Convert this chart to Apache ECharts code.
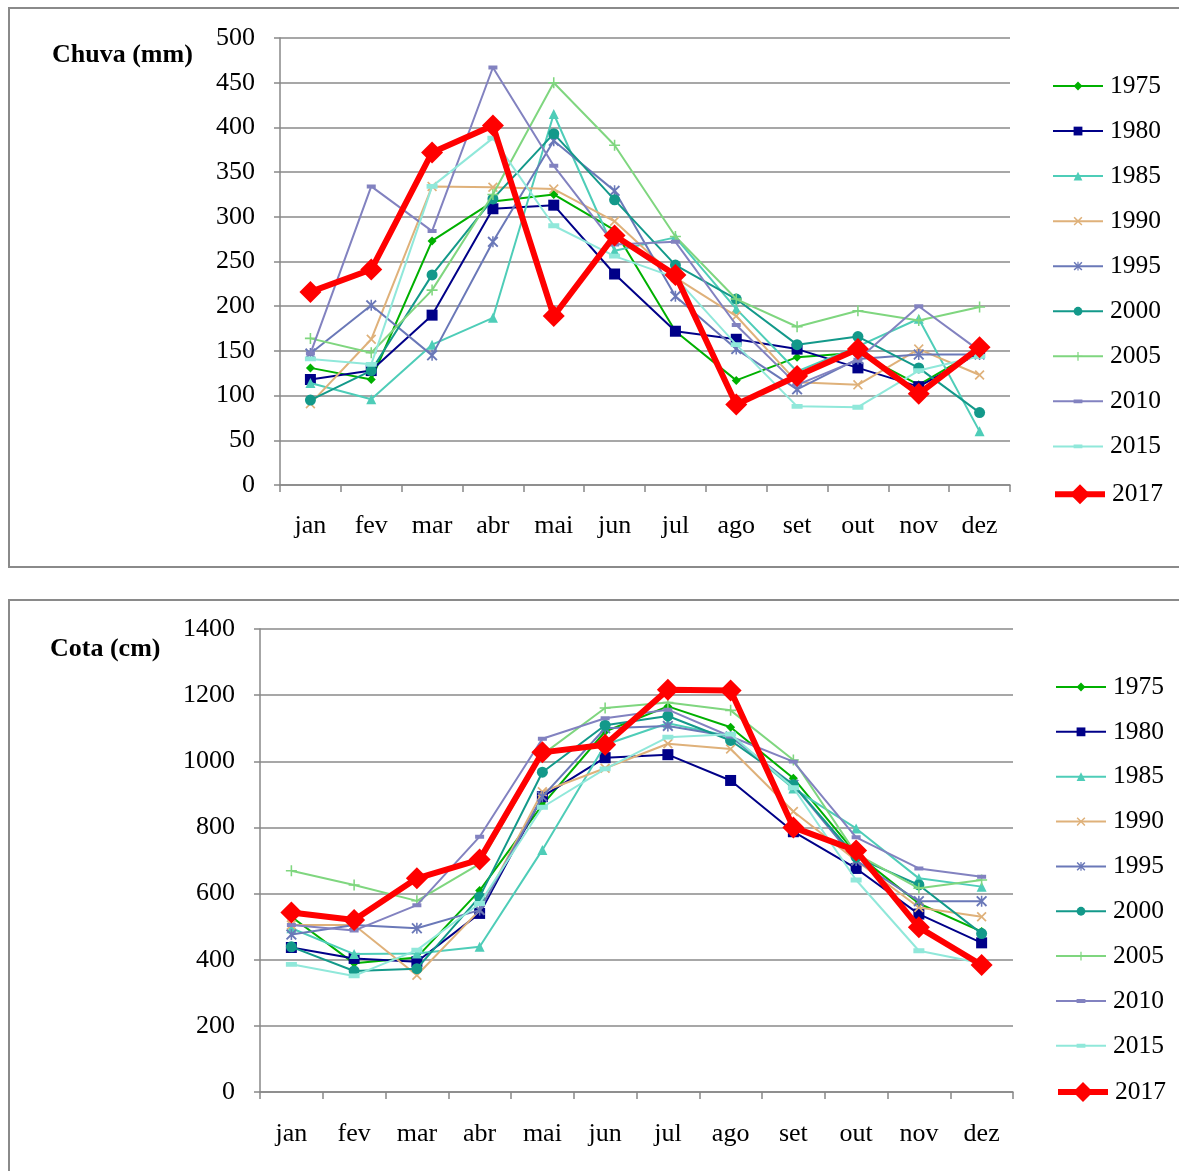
<!DOCTYPE html>
<html><head><meta charset="utf-8">
<script src="https://cdn.jsdelivr.net/npm/echarts@6/dist/echarts.min.js"></script>
<style>html,body{margin:0;padding:0;background:#fff}#c{width:1179px;height:1171px}</style>
</head><body><div id="c"></div>
<script>
const months = ['jan','fev','mar','abr','mai','jun','jul','ago','set','out','nov','dez'];
const years = ['1975','1980','1985','1990','1995','2000','2005','2010','2015','2017'];
const chuvaTicks = [0,50,100,150,200,250,300,350,400,450,500];
const cotaTicks = [0,200,400,600,800,1000,1200,1400];

const chuva1975 = [131,118,273,317,325,285,172,117,143,148,112,152];
const chuva1980 = [118,128,190,309,313,236,172,163,152,131,110,148];
const chuva1985 = [114,96,157,187,415,262,277,197,127,155,186,60];
const chuva1990 = [91,163,334,333,331,295,232,189,115,112,152,123];
const chuva1995 = [147,201,145,272,385,329,211,152,107,141,146,146];
const chuva2000 = [95,128,235,320,393,319,246,208,157,166,131,81];
const chuva2005 = [164,148,218,325,450,380,278,208,177,195,184,199];
const chuva2010 = [147,334,284,467,357,269,272,179,112,140,200,150];
const chuva2015 = [141,135,334,388,290,256,232,157,88,87,128,144];
const chuva2017 = [216,241,372,402,189,279,235,90,122,152,102,154];

const cota1975 = [530,389,407,609,868,1090,1166,1103,949,720,570,485];
const cota1980 = [437,404,394,540,893,1011,1020,942,787,676,538,451];
const cota1985 = [495,417,419,439,732,1050,1115,1075,918,797,646,621];
const cota1990 = [505,505,353,550,908,979,1053,1037,848,700,558,530];
const cota1995 = [476,505,495,550,893,1100,1107,1075,929,700,577,577];
const cota2000 = [439,366,373,590,967,1109,1137,1063,929,710,626,479];
const cota2005 = [669,626,578,690,1020,1161,1178,1154,1004,720,616,641];
const cota2010 = [505,488,565,772,1068,1130,1156,1075,999,770,676,651];
const cota2015 = [386,351,429,570,861,977,1073,1082,920,641,427,389];
const cota2017 = [543,520,646,703,1027,1050,1216,1214,800,730,498,384];

const chuvaData = [chuva1975,chuva1980,chuva1985,chuva1990,chuva1995,chuva2000,chuva2005,chuva2010,chuva2015,chuva2017];
const cotaData = [cota1975,cota1980,cota1985,cota1990,cota1995,cota2000,cota2005,cota2010,cota2015,cota2017];

const X_PATH = 'path://M0,1.2 L1.2,0 L5,3.8 L8.8,0 L10,1.2 L6.2,5 L10,8.8 L8.8,10 L5,6.2 L1.2,10 L0,8.8 L3.8,5 Z';
const PLUS_PATH = 'path://M4.3,0 H5.7 V4.3 H10 V5.7 H5.7 V10 H4.3 V5.7 H0 V4.3 H4.3 Z';
const STAR_PATH = 'path://M0,1.2 L1.2,0 L5,3.8 L8.8,0 L10,1.2 L6.2,5 L10,8.8 L8.8,10 L5,6.2 L1.2,10 L0,8.8 L3.8,5 Z M4.3,0 H5.7 V10 H4.3 Z';
const DASH_PATH = 'path://M0,0 L0.01,0 Z M0,2.8 H10 V7.2 H0 Z M10,10 L9.99,10 Z';
const styles = [
  {color:'#00b000', symbol:'diamond', size:9, width:2},
  {color:'#000088', symbol:'rect', size:11, width:2},
  {color:'#4ecdb8', symbol:'triangle', size:10, width:2},
  {color:'#dfb17a', symbol:X_PATH, size:10, width:2},
  {color:'#6a78b8', symbol:STAR_PATH, size:11, width:2},
  {color:'#13998a', symbol:'circle', size:11, width:2},
  {color:'#7fd67f', symbol:PLUS_PATH, size:11, width:2},
  {color:'#8282c0', symbol:DASH_PATH, size:9, width:2},
  {color:'#90e8da', symbol:DASH_PATH, size:11, width:2},
  {color:'#ff0000', symbol:'diamond', size:22, width:6}
];
const font = 'Liberation Serif, Times New Roman, serif';

function yAxis(gi, max, interval) {
  return {type:'value', gridIndex:gi, min:0, max:max, interval:interval,
    axisLine:{show:true, lineStyle:{color:'#888', width:1.5}},
    axisTick:{show:true, length:6, lineStyle:{color:'#888', width:1.5}},
    axisLabel:{fontFamily:font, fontSize:26, color:'#000', margin:25, formatter:v => String(v)},
    splitLine:{show:true, lineStyle:{color:'#8a8a8a', width:1.5}}};
}
function xAxis(gi, margin) {
  return {type:'category', gridIndex:gi, data:months, boundaryGap:true,
    axisLine:{show:true, lineStyle:{color:'#888', width:1.5}},
    axisTick:{show:true, length:7, lineStyle:{color:'#888', width:1.5}},
    axisLabel:{fontFamily:font, fontSize:26, color:'#000', margin:margin}};
}
const series = [];
[chuvaData, cotaData].forEach((set, gi) => {
  set.forEach((arr, i) => {
    const s = styles[i];
    series.push({name:years[i], type:'line', xAxisIndex:gi, yAxisIndex:gi, data:arr,
      symbol:s.symbol, symbolSize:s.size, showAllSymbol:true,
      lineStyle:{color:s.color, width:s.width},
      itemStyle:{color:s.color, borderWidth:0},
      emphasis:{disabled:true}, z: 2 + i});
  });
});
const legendSmall = years.slice(0, 9);
function legends(top, left, gap, off) {
  return [
    {orient:'vertical', top:top, left:left, data:legendSmall, itemWidth:50, itemHeight:11, itemGap:gap - 26.25,
      textStyle:{fontFamily:font, fontSize:25.5, color:'#000', lineHeight:25, padding:[0,0,0,2]}, selectedMode:false},
    {orient:'vertical', top:top + gap * 9 + off, left:left, data:[{name:'2017', lineStyle:{width:6}}], itemWidth:50, itemHeight:25,
      textStyle:{fontFamily:font, fontSize:25.5, color:'#000', lineHeight:25, padding:[0,0,0,2]}, selectedMode:false}
  ];
}
const chart = echarts.init(document.getElementById('c'), null, {renderer:'canvas'});
chart.setOption({
  animation:false,
  backgroundColor:'#fff',
  grid:[{left:280, top:38, width:730, height:447},
        {left:260, top:629, width:753, height:463}],
  xAxis:[xAxis(0,28), xAxis(1,29)],
  yAxis:[yAxis(0,500,50), yAxis(1,1400,200)],
  legend:[...legends(68,1047,45.3,0.5), ...legends(669,1050,45.1,-1)],
  series:series,
  graphic:[
    {type:'rect', shape:{x:9, y:8, width:1180, height:559}, style:{fill:'none', stroke:'#8a8a8a', lineWidth:2}, z:-1},
    {type:'rect', shape:{x:9, y:600, width:1180, height:580}, style:{fill:'none', stroke:'#8a8a8a', lineWidth:2}, z:-1},
    {type:'text', left:52, top:42, style:{text:'Chuva (mm)', font:'bold 26px ' + font, fill:'#000'}},
    {type:'text', left:50, top:636, style:{text:'Cota (cm)', font:'bold 26px ' + font, fill:'#000'}}
  ]
});
</script></body></html>
